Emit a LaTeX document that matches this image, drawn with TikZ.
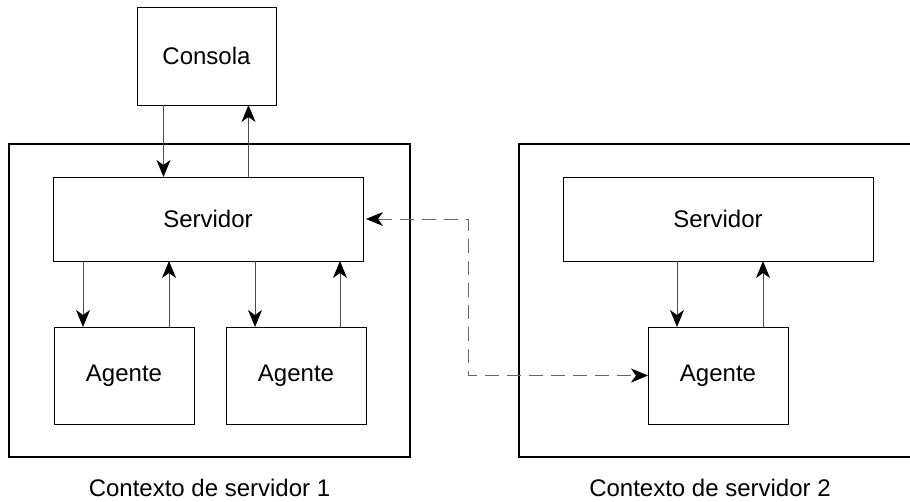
\documentclass[tikz,border=0pt]{standalone}
\usepackage{fontspec}
\setmainfont{Liberation Sans}
\usepackage{tikz}
\usetikzlibrary{positioning, arrows.meta, fit}
\tikzstyle{console} = [rectangle, minimum width=139pt, minimum height=98pt, outer sep=0pt, text centered, draw=black, line width=1pt, font=\fontsize{24}{28}\selectfont]
\tikzstyle{server} = [rectangle, minimum width=310pt, minimum height=84pt, outer sep=0pt, text centered, draw=black, line width=1pt, font=\fontsize{24}{28}\selectfont]
\tikzstyle{agent} = [rectangle, minimum width=140pt, minimum height=97pt, outer sep=0pt, text centered, draw=black, line width=1pt, font=\fontsize{24}{28}\selectfont]
\tikzstyle{context} = [rectangle, draw=black, line width=2pt, outer sep=0pt, inner xsep=44pt, inner ysep=33pt]
\tikzstyle{ctxlabel} = [font=\fontsize{24}{28}\selectfont]
\tikzstyle{arrow} = [line width=1pt, draw=black!70, -{Stealth[length=17pt, width=14pt, inset=5pt, color=black]}]
\tikzstyle{link} = [line width=1pt, draw=black!60, dash pattern=on 14pt off 8pt, {Stealth[length=17pt, width=14pt, inset=5pt, color=black]}-{Stealth[length=17pt, width=14pt, inset=5pt, color=black]}]

\begin{document}
\begin{tikzpicture}[x=1pt, y=-1pt]
        \useasboundingbox (0,0) rectangle (910,501);
        \clip (0,0) rectangle (910,501);

        \node (consola) [console] at (206.5,56) {Consola};
        \node (serv1) [server, below=72pt of consola, xshift=1.5pt] {Servidor};
        \node (ag1) [agent, below right=66pt and 1pt of serv1.south west] {Agente};
        \node (ag2) [agent, right=32pt of ag1] {Agente};
        \node (ctx1) [context, fit=(serv1)(ag1)(ag2)] {};
        \node (serv2) [server, right=200pt of serv1] {Servidor};
        \node (ag3) [agent, below=66pt of serv2] {Agente};
        \node (ctx2) [context, fit=(serv2)(ag3)] {};
        \node (lbl1) [ctxlabel, below=39pt of ctx1.south, anchor=base] {Contexto de servidor 1};
        \node (lbl2) [ctxlabel, below=39pt of ctx2.south, anchor=base, xshift=-8pt] {Contexto de servidor 2};

        \draw [arrow] ([xshift=-43pt]consola.south) -- ([xshift=-43pt]consola.south |- serv1.north);
        \draw [arrow] ([xshift=42pt]consola.south |- serv1.north) -- ([xshift=42pt]consola.south);
        \draw [arrow] ([xshift=-41pt]ag1.north |- serv1.south) -- ([xshift=-41pt]ag1.north);
        \draw [arrow] ([xshift=45pt]ag1.north) -- ([xshift=45pt]ag1.north |- serv1.south);
        \draw [arrow] ([xshift=-41pt]ag2.north |- serv1.south) -- ([xshift=-41pt]ag2.north);
        \draw [arrow] ([xshift=44pt]ag2.north) -- ([xshift=44pt]ag2.north |- serv1.south);
        \draw [arrow] ([xshift=-41pt]ag3.north |- serv2.south) -- ([xshift=-41pt]ag3.north);
        \draw [arrow] ([xshift=45pt]ag3.north) -- ([xshift=45pt]ag3.north |- serv2.south);
        \draw [link] ([xshift=3pt]serv1.east) -| ([xshift=-180pt]ag3.west) -- (ag3.west);

\end{tikzpicture}
\end{document}
